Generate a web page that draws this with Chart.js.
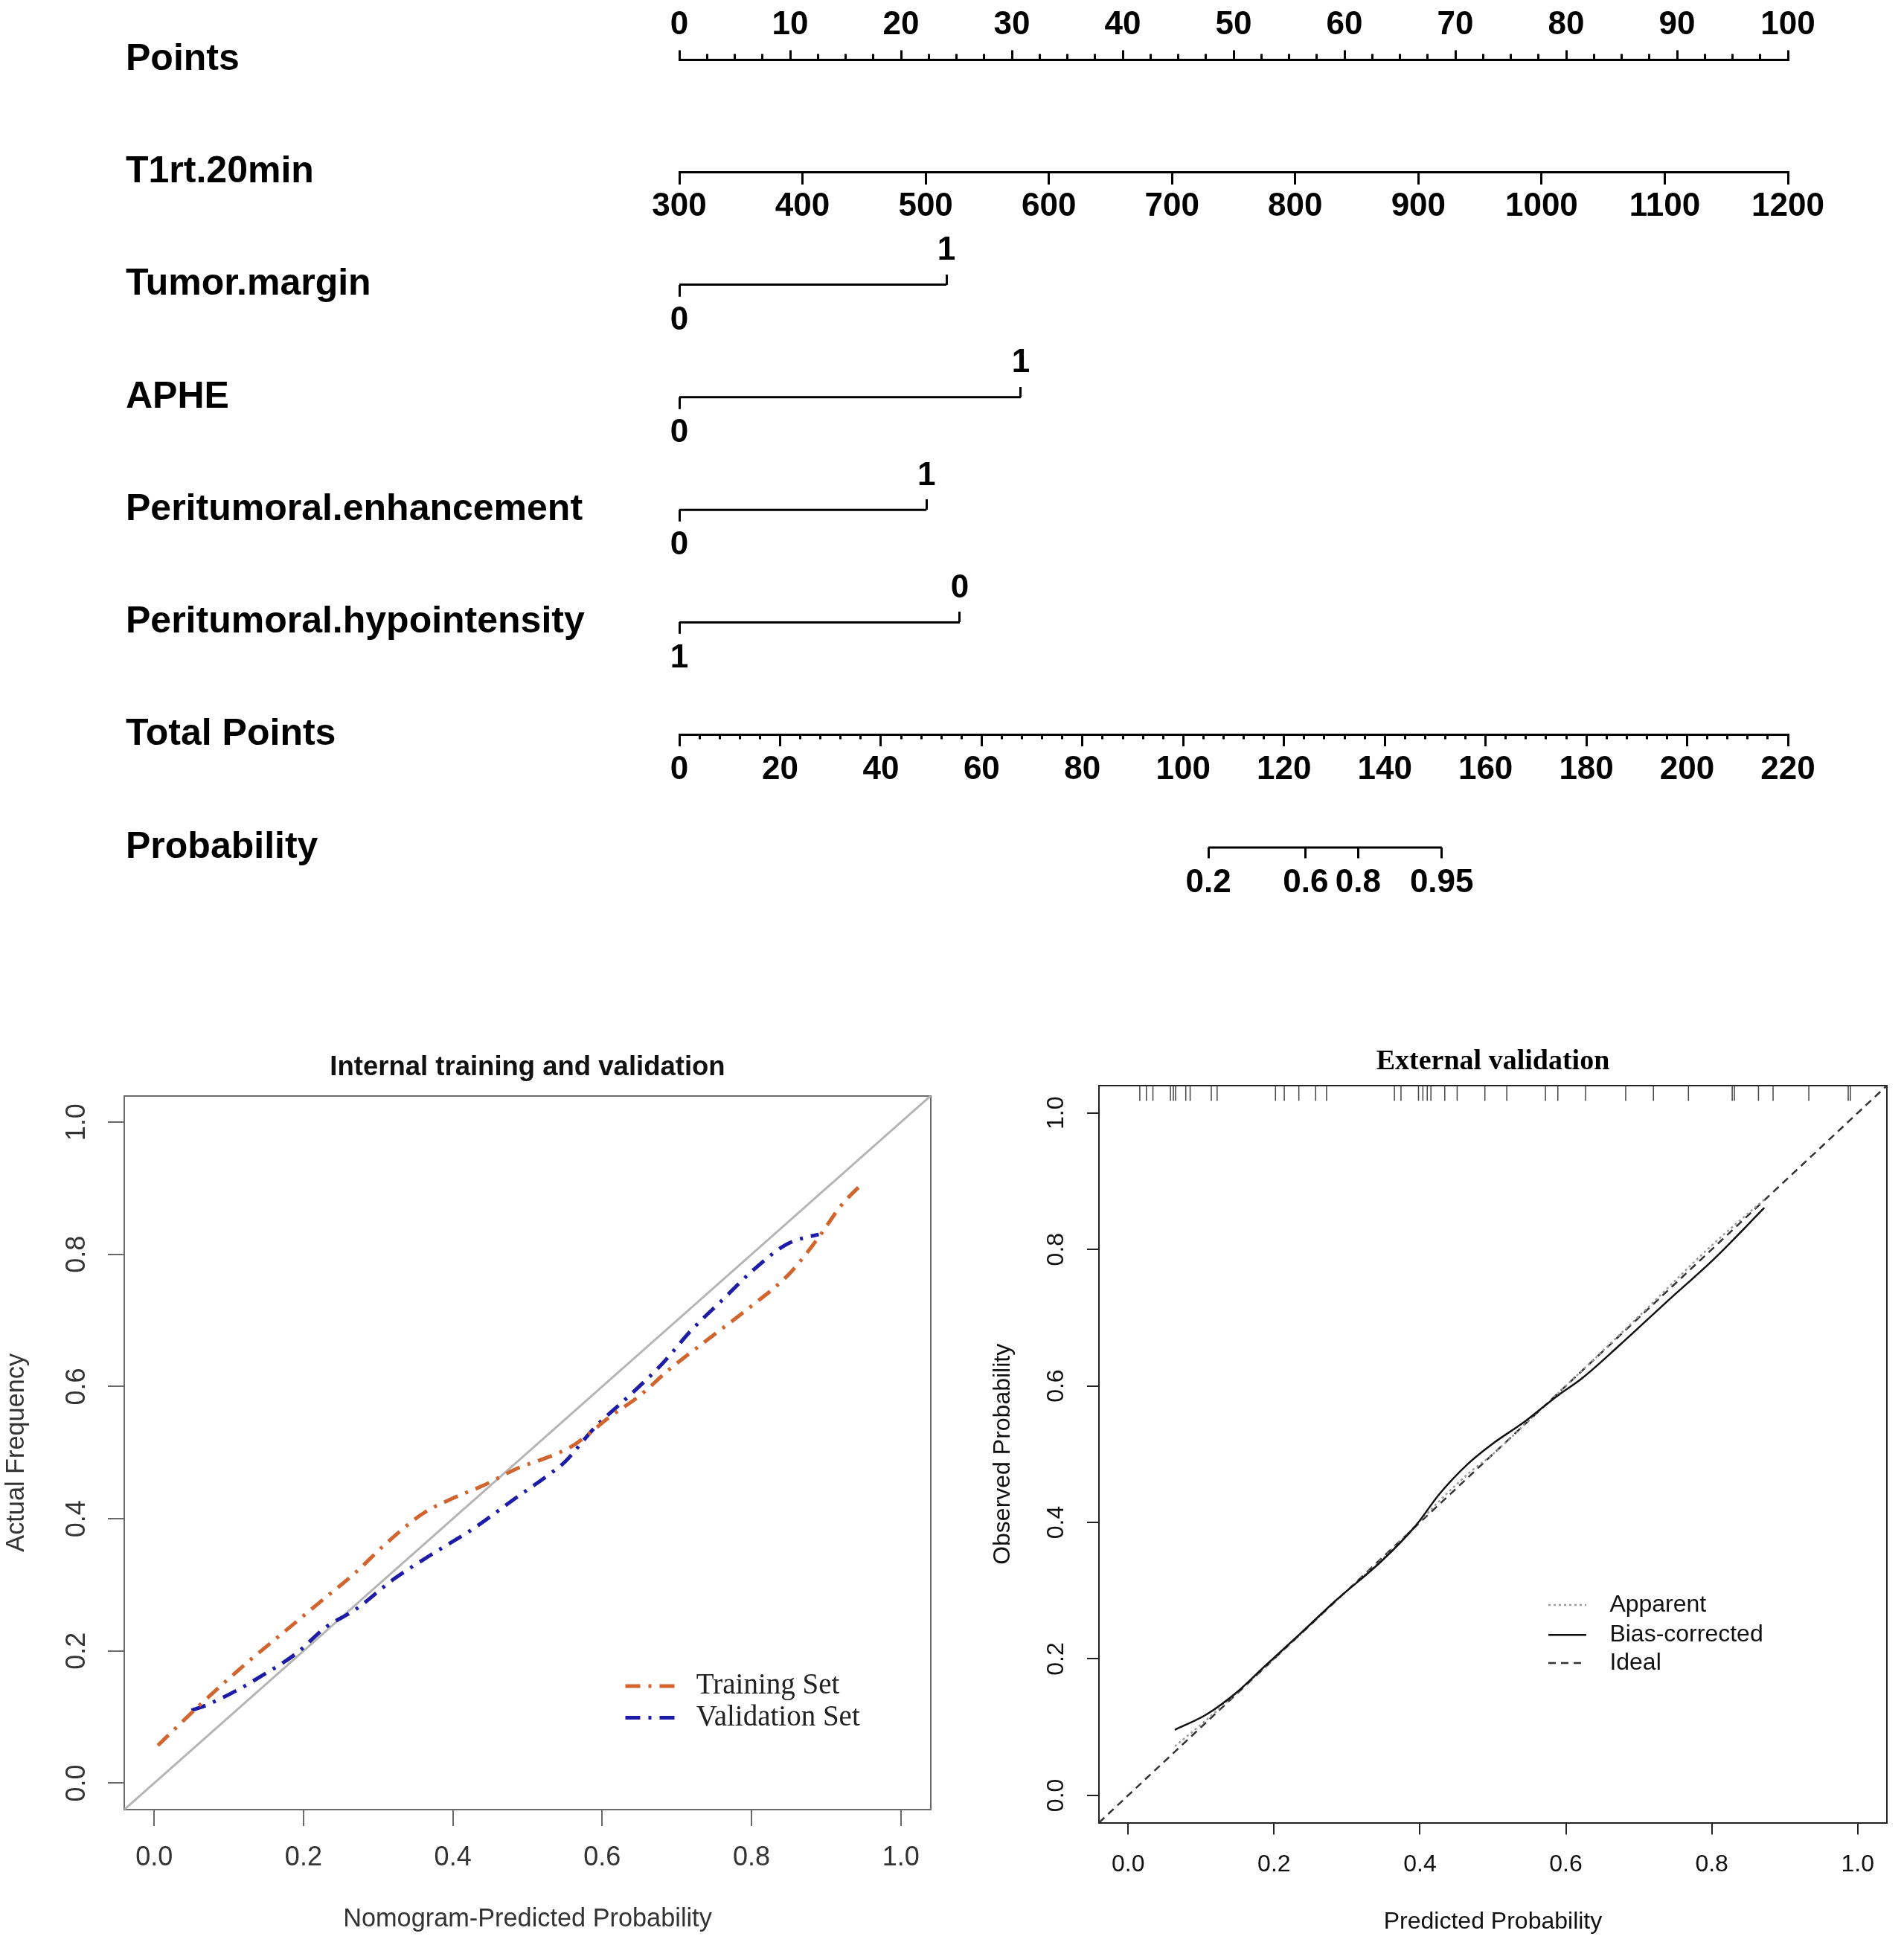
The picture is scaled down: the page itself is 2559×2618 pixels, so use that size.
<!DOCTYPE html>
<html>
<head>
<meta charset="utf-8">
<title>Nomogram and calibration curves</title>
<script src="https://cdn.jsdelivr.net/npm/chart.js@4.4.0/dist/chart.umd.min.js"></script>
<style>
  html, body { margin: 0; padding: 0; background: #fff; }
  #page { position: relative; width: 2559px; height: 2618px; background: #fff; }
  canvas { position: absolute; }
  #nomogram { left: 0; top: 0; }
  #internal { left: 0; top: 1260px; }
  #external { left: 1280px; top: 1260px; }
</style>
</head>
<body>
<div id="page">
  <canvas id="nomogram" width="2559" height="1260"></canvas>
  <canvas id="internal" width="1280" height="1358"></canvas>
  <canvas id="external" width="1279" height="1358"></canvas>
</div>
<script>
// nomogram
var rowNames = ['Points', 'T1rt.20min', 'Tumor.margin', 'APHE', 'Peritumoral.enhancement',
                'Peritumoral.hypointensity', 'Total Points', 'Probability'];
var pointsRange = [0, 100];
var t1rtRange = [300, 1200];
var totalRange = [0, 220];
var binaryPoints = [24.1, 30.8, 22.3, 25.3];
var binaryLow = ['0', '0', '0', '1'];
var binaryHigh = ['1', '1', '1', '0'];
var probLabels = ['0.2', '0.6', '0.8', '0.95'];
var probAtTotal = [105.0, 124.3, 134.7, 151.3];

// calibration, internal
var calTicks = [0, 0.2, 0.4, 0.6, 0.8, 1.0];
var calLimits = [-0.04, 1.04];
var trainPred = [0.005, 0.06, 0.12, 0.17, 0.22, 0.27, 0.31, 0.36, 0.40, 0.44, 0.49, 0.52, 0.56, 0.61, 0.65, 0.69, 0.74, 0.80, 0.85, 0.89, 0.92, 0.95];
var trainObs  = [0.057, 0.117, 0.178, 0.225, 0.272, 0.319, 0.362, 0.408, 0.431, 0.45, 0.478, 0.49, 0.51, 0.554, 0.586, 0.626, 0.67, 0.722, 0.77, 0.826, 0.874, 0.909];
var validPred = [0.05, 0.07, 0.11, 0.145, 0.19, 0.23, 0.27, 0.32, 0.37, 0.43, 0.48, 0.53, 0.55, 0.59, 0.64, 0.68, 0.72, 0.76, 0.80, 0.845, 0.87, 0.89];
var validObs  = [0.11, 0.118, 0.14, 0.163, 0.196, 0.236, 0.263, 0.308, 0.345, 0.387, 0.428, 0.468, 0.486, 0.538, 0.59, 0.634, 0.686, 0.73, 0.774, 0.814, 0.825, 0.83];

// calibration, external
var biasPred = [0.064, 0.108, 0.15, 0.186, 0.235, 0.284, 0.349, 0.394, 0.427, 0.466, 0.498, 0.544, 0.589, 0.622, 0.674, 0.739, 0.804, 0.872];
var biasObs  = [0.096, 0.119, 0.152, 0.188, 0.236, 0.285, 0.345, 0.395, 0.442, 0.486, 0.514, 0.548, 0.586, 0.611, 0.66, 0.724, 0.787, 0.861];
var appPred  = [0.064, 0.10, 0.2, 0.3, 0.35, 0.4, 0.43, 0.47, 0.5, 0.55, 0.6, 0.7, 0.8, 0.875];
var appObs   = [0.072, 0.104, 0.2, 0.3, 0.348, 0.402, 0.435, 0.475, 0.5, 0.55, 0.6, 0.702, 0.806, 0.876];
var rugPred  = [0.016, 0.025, 0.034, 0.058, 0.062, 0.065, 0.079, 0.085, 0.114, 0.122, 0.202, 0.214, 0.234, 0.257, 0.272,
                0.365, 0.374, 0.398, 0.404, 0.41, 0.415, 0.434, 0.451, 0.489, 0.519, 0.572, 0.589, 0.627, 0.682, 0.72,
                0.768, 0.828, 0.831, 0.864, 0.884, 0.933, 0.987, 0.99];

var sans = "'Liberation Sans', Arial, Helvetica, sans-serif";
var serif = "'Liberation Serif', 'Times New Roman', serif";

function xy(xs, ys) {
    return xs.map(function (v, i) { return {x: v, y: ys[i]}; });
}

// one horizontal axis of the nomogram, placed on a row of the y scale
function nomoAxis(row, range, o) {
    return {
        type: 'linear', axis: 'x', position: {y: row},
        min: range[0], max: range[1],
        afterBuildTicks: function (s) {
            if (o.at) s.ticks = o.at.map(function (v) { return {value: v}; });
        },
        ticks: {
            display: !!o.labels, stepSize: o.step, autoSkip: false, minRotation: 0, maxRotation: 0,
            padding: o.pad || 0, color: '#000', font: {family: sans, size: 44, weight: 'bold'},
            callback: typeof o.labels === 'function' ? o.labels : function (v) { return String(v); }
        },
        grid: {drawOnChartArea: false, drawTicks: true, tickLength: o.tl, color: '#000', lineWidth: 3},
        border: {display: !!o.line, color: '#000', width: 3}
    };
}

var nomoScales = {
    y: {
        type: 'linear', position: 'left', reverse: true, min: 0, max: rowNames.length - 1,
        ticks: {stepSize: 1, autoSkip: false, crossAlign: 'far', padding: 0, color: '#000',
                font: {family: sans, size: 50, weight: 'bold'},
                callback: function (v) { return rowNames[v]; }},
        grid: {display: false}, border: {display: false},
        afterFit: function (s) { s.width = 744; }
    },
    x: nomoAxis(0, pointsRange, {step: 10, tl: -14.5, pad: -58.3, labels: true, line: true}),
    xPointsMinor: nomoAxis(0, pointsRange, {step: 2.5, tl: -7.5}),
    xT1rt: nomoAxis(1, t1rtRange, {step: 100, tl: 15, pad: 5, labels: true, line: true}),
    xTotal: nomoAxis(6, totalRange, {step: 20, tl: 14, pad: 7, labels: true, line: true}),
    xTotalMinor: nomoAxis(6, totalRange, {step: 4, tl: 5.5}),
    xProb: nomoAxis(7, totalRange, {at: probAtTotal, tl: 14.5, pad: 7,
                                    labels: function (v, i) { return probLabels[i]; }})
};
binaryPoints.forEach(function (p, i) {
    nomoScales['xLow' + i] = nomoAxis(2 + i, pointsRange, {at: [0], tl: 15.8, pad: 5.9,
                                      labels: function () { return binaryLow[i]; }});
    nomoScales['xHigh' + i] = nomoAxis(2 + i, pointsRange, {at: [p], tl: -14, pad: -58,
                                       labels: function () { return binaryHigh[i]; }});
});

var nomoSets = binaryPoints.map(function (p, i) {
    return {data: [{x: 0, y: 2 + i}, {x: p, y: 2 + i}], xAxisID: 'x', yAxisID: 'y'};
});
nomoSets.push({data: [{x: probAtTotal[0], y: 7}, {x: probAtTotal[probAtTotal.length - 1], y: 7}],
               xAxisID: 'xTotal', yAxisID: 'y'});
nomoSets.forEach(function (d) {
    d.showLine = true; d.borderColor = '#000'; d.borderWidth = 3; d.pointRadius = 0; d.clip = false;
});

new Chart(document.getElementById('nomogram').getContext('2d'), {
    type: 'scatter',
    data: {datasets: nomoSets},
    options: {
        responsive: false, animation: false, events: [], devicePixelRatio: 1,
        layout: {padding: {left: 169, right: 156, top: 80, bottom: 121}},
        plugins: {legend: {display: false}, tooltip: {enabled: false}},
        scales: nomoScales
    }
});

// legend drawn inside the plot at data coordinates, like R's legend()
var calLegend = {
    id: 'calLegend',
    afterDatasetsDraw: function (chart, args, opts) {
        var ctx = chart.ctx, xs = chart.scales.x, ys = chart.scales.y;
        ctx.save();
        ctx.font = opts.font;
        ctx.fillStyle = opts.color;
        ctx.textBaseline = 'middle';
        opts.items.forEach(function (di, k) {
            var ds = chart.data.datasets[di];
            var py = ys.getPixelForValue(opts.rows[k]);
            ctx.strokeStyle = ds.borderColor;
            ctx.lineWidth = ds.borderWidth;
            ctx.setLineDash(ds.borderDash || []);
            ctx.beginPath();
            ctx.moveTo(xs.getPixelForValue(opts.line[0]), py);
            ctx.lineTo(xs.getPixelForValue(opts.line[1]), py);
            ctx.stroke();
            ctx.setLineDash([]);
            ctx.fillText(ds.label, xs.getPixelForValue(opts.text), py);
        });
        ctx.restore();
    }
};

function calScales(o) {
    var useTicks = function (s) { s.ticks = calTicks.map(function (v) { return {value: v}; }); };
    var fmt = function (v) { return v.toFixed(1); };
    var tickFont = {family: sans, size: o.tickSize};
    var edge = {display: true, color: o.box, width: 2};
    return {
        x: {
            type: 'linear', position: 'bottom', min: calLimits[0], max: calLimits[1], afterBuildTicks: useTicks,
            ticks: {callback: fmt, font: tickFont, color: o.text, padding: o.xPad, autoSkip: false, minRotation: 0, maxRotation: 0},
            grid: {drawOnChartArea: false, drawTicks: true, tickLength: o.tl, color: o.box, lineWidth: 2},
            border: edge,
            title: {display: true, text: o.xTitle, font: {family: sans, size: o.titleSize}, color: o.text, padding: 0},
            afterFit: function (s) { s.height = o.xHeight; }
        },
        xTop: {
            type: 'linear', axis: 'x', position: 'top', min: calLimits[0], max: calLimits[1],
            ticks: {display: false}, grid: {drawOnChartArea: false, drawTicks: false}, border: edge,
            afterFit: function (s) { s.height = 0; }
        },
        y: {
            type: 'linear', position: 'left', min: calLimits[0], max: calLimits[1], afterBuildTicks: useTicks,
            ticks: {callback: fmt, font: tickFont, color: o.text, padding: o.yPad, autoSkip: false,
                    minRotation: 90, maxRotation: 90, crossAlign: 'center'},
            grid: {drawOnChartArea: false, drawTicks: true, tickLength: o.tl, color: o.box, lineWidth: 2},
            border: edge,
            title: {display: true, text: o.yTitle, font: {family: sans, size: o.titleSize}, color: o.text,
                    padding: {top: o.yTitlePad, bottom: 0}},
            afterFit: function (s) { s.width = o.yWidth; }
        },
        yRight: {
            type: 'linear', axis: 'y', position: 'right', min: calLimits[0], max: calLimits[1],
            ticks: {display: false}, grid: {drawOnChartArea: false, drawTicks: false}, border: edge,
            afterFit: function (s) { s.width = 0; }
        }
    };
}

var diagonal = xy(calLimits, calLimits);

new Chart(document.getElementById('internal').getContext('2d'), {
    type: 'scatter',
    data: {
        datasets: [
            {label: 'Training Set', data: xy(trainPred, trainObs), showLine: true, pointRadius: 0,
             borderColor: '#d2642d', borderWidth: 5, borderDash: [20, 11, 4, 11], cubicInterpolationMode: 'monotone'},
            {label: 'Validation Set', data: xy(validPred, validObs), showLine: true, pointRadius: 0,
             borderColor: '#1c1ca8', borderWidth: 5, borderDash: [20, 11, 4, 11], cubicInterpolationMode: 'monotone'},
            {label: '', data: diagonal, showLine: true, pointRadius: 0, borderColor: '#b5b5b5', borderWidth: 3}
        ]
    },
    options: {
        responsive: false, animation: false, events: [], devicePixelRatio: 1,
        layout: {padding: {left: 0, right: 29, top: 150, bottom: 18}},
        plugins: {
            legend: {display: false}, tooltip: {enabled: false},
            title: {display: true, text: 'Internal training and validation', fullSize: false, color: '#111',
                    font: {family: sans, size: 36.5, weight: 'bold'}, padding: {top: 3.4, bottom: 15.4}},
            calLegend: {items: [0, 1], rows: [0.147, 0.099], line: [0.631, 0.70], text: 0.726,
                        font: '39px ' + serif, color: '#222'}
        },
        scales: calScales({box: '#6a6a6a', text: '#333', tl: 22, tickSize: 36, xPad: 21.4, yPad: 16, titleSize: 34.3,
                           xTitle: 'Nomogram-Predicted Probability', yTitle: 'Actual Frequency',
                           xHeight: 168, yWidth: 167, yTitlePad: 2})
    },
    plugins: [calLegend]
});

new Chart(document.getElementById('external').getContext('2d'), {
    type: 'scatter',
    data: {
        datasets: [
            {label: 'Bias-corrected', data: xy(biasPred, biasObs), showLine: true, pointRadius: 0,
             borderColor: '#111', borderWidth: 2.5, cubicInterpolationMode: 'monotone'},
            {label: 'Apparent', data: xy(appPred, appObs), showLine: true, pointRadius: 0,
             borderColor: '#9a9a9a', borderWidth: 2.5, borderDash: [3, 4], cubicInterpolationMode: 'monotone'},
            {label: 'Ideal', data: diagonal, showLine: true, pointRadius: 0,
             borderColor: '#333', borderWidth: 2.5, borderDash: [10, 7]},
            {label: '', data: rugPred.map(function (v) { return {x: v, y: 1.029}; }), showLine: false,
             pointStyle: 'line', pointRotation: 90, pointRadius: 10.5, pointBorderColor: '#444', pointBorderWidth: 1.5}
        ]
    },
    options: {
        responsive: false, animation: false, events: [], devicePixelRatio: 1,
        layout: {padding: {left: 49, right: 23, top: 140, bottom: 15.4}},
        plugins: {
            legend: {display: false}, tooltip: {enabled: false},
            title: {display: true, text: 'External validation', fullSize: false, color: '#000',
                    font: {family: serif, size: 38, weight: 'bold'}, padding: {top: 4.2, bottom: 9.2}},
            calLegend: {items: [1, 0, 2], rows: [0.279, 0.235, 0.194], line: [0.576, 0.628], text: 0.66,
                        font: '32px ' + sans, color: '#111'}
        },
        scales: calScales({box: '#222', text: '#111', tl: 16, tickSize: 32, xPad: 21.8, yPad: 18.8, titleSize: 32,
                           xTitle: 'Predicted Probability', yTitle: 'Observed Probability',
                           xHeight: 153, yWidth: 148, yTitlePad: 0})
    },
    plugins: [calLegend]
});
</script>
</body>
</html>
